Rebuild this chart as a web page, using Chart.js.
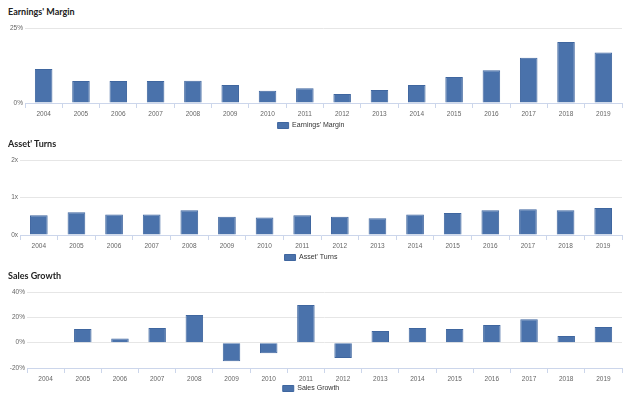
<!DOCTYPE html>
<html>
<head>
<meta charset="utf-8">
<script src="https://cdn.jsdelivr.net/npm/chart.js@4.4.0/dist/chart.umd.min.js"></script>
<style>
  html, body { margin: 0; padding: 0; background: #fff; width: 628px; height: 399px; overflow: hidden; }
  .panel { position: absolute; left: 0; }
  .title { position: absolute; left: 8px; font: bold 9px Lato, "Open Sans", sans-serif; line-height: 12px; color: #222; }
</style>
</head>
<body>
<div class="title" style="top:6px">Earnings' Margin</div>
<canvas class="panel" id="margin-chart" width="628" height="139" style="top:0"></canvas>

<div class="title" style="top:138px">Asset' Turns</div>
<canvas class="panel" id="turns-chart" width="628" height="136" style="top:135px"></canvas>

<div class="title" style="top:270px">Sales Growth</div>
<canvas class="panel" id="growth-chart" width="628" height="132" style="top:270px"></canvas>

<script>
// Data
const years = ["2004", "2005", "2006", "2007", "2008", "2009", "2010", "2011",
  "2012", "2013", "2014", "2015", "2016", "2017", "2018", "2019"];
const earningsMargin = [11.3, 7.3, 7.3, 7.3, 7.4, 6.0, 4.1, 4.9, 3.0, 4.3, 6.0, 8.7, 10.9, 15.1, 20.3, 16.8];
const assetTurns = [0.53, 0.61, 0.55, 0.55, 0.66, 0.49, 0.47, 0.53, 0.49, 0.45, 0.55, 0.59, 0.66, 0.69, 0.66, 0.72];
const salesGrowth = [null, 10.8, 3.2, 11.6, 21.8, -14.7, -8.4, 29.7, -12.1, 9.2, 11.6, 10.8, 14.0, 18.4, 5.3, 12.4];

const marginTicks = [0, 25];
const turnsTicks = [0, 1, 2];
const growthTicks = [-20, 0, 20, 40];

const BAR_COLOR = "#4a72ab";
const BAR_BORDER = "#3f669f";
const AXIS_COLOR = "#ccd6eb";
const GRID_COLOR = "#e6e6e6";
const TICK_FONT = { family: "Arial, 'Liberation Sans', sans-serif", size: 6.5 };

// Build one bar panel
function makePanel(canvasId, label, values, ticks, suffix, layout) {
  const ctx = document.getElementById(canvasId).getContext("2d");
  const min = ticks[0];
  const max = ticks[ticks.length - 1];

  return new Chart(ctx, {
    type: "bar",
    data: {
      labels: years,
      datasets: [
        {
          label: label,
          data: values,
          backgroundColor: BAR_COLOR,
          borderColor: BAR_BORDER,
          borderWidth: 1,
          categoryPercentage: 1,
          barPercentage: 0.47,
        },
      ],
    },
    options: {
      responsive: false,
      animation: false,
      devicePixelRatio: 1,
      layout: {
        padding: { top: layout.top, right: 6, bottom: 0, left: 0 },
      },
      plugins: {
        legend: {
          position: "bottom",
          labels: {
            boxWidth: 11,
            boxHeight: 6,
            padding: 4,
            color: "#333",
            font: { family: "Arial, 'Liberation Sans', sans-serif", size: 7 },
          },
        },
        tooltip: { enabled: false },
      },
      scales: {
        x: {
          grid: {
            drawOnChartArea: false,
            drawTicks: true,
            tickLength: 5,
            color: AXIS_COLOR,
          },
          border: { color: AXIS_COLOR, width: 1 },
          ticks: {
            color: "#666",
            font: TICK_FONT,
            padding: 2,
            maxRotation: 0,
            autoSkip: false,
          },
          afterFit(scale) {
            scale.height = layout.xHeight;
          },
        },
        y: {
          min: min,
          max: max,
          afterBuildTicks(scale) {
            scale.ticks = ticks.map((v) => ({ value: v }));
          },
          grid: {
            drawTicks: false,
            color: (c) => (c.tick && c.tick.value === min ? "rgba(0,0,0,0)" : GRID_COLOR),
          },
          border: { display: false },
          ticks: {
            color: "#666",
            font: TICK_FONT,
            padding: 2,
            callback: (v) => v + suffix,
          },
          afterFit(scale) {
            scale.width = layout.yWidth;
          },
        },
      },
    },
  });
}

makePanel("margin-chart", "Earnings' Margin", earningsMargin, marginTicks, "%", { top: 28, xHeight: 15, yWidth: 25 });
makePanel("turns-chart", "Asset' Turns", assetTurns, turnsTicks, "x", { top: 25, xHeight: 15, yWidth: 20 });
makePanel("growth-chart", "Sales Growth", salesGrowth, growthTicks, "%", { top: 22, xHeight: 13, yWidth: 27 });
</script>
</body>
</html>
